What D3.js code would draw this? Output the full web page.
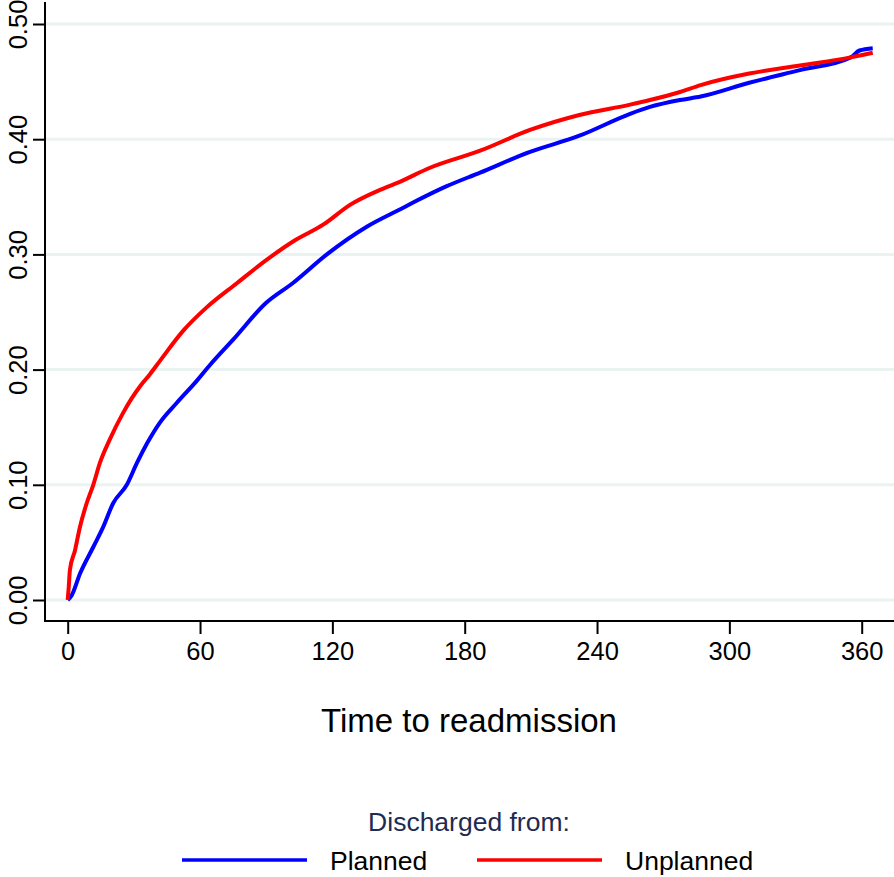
<!DOCTYPE html>
<html><head><meta charset="utf-8">
<script src="https://cdn.jsdelivr.net/npm/d3@7"></script>
<style>body{margin:0;background:#fff}svg{display:block}text{font-family:"Liberation Sans",Arial,sans-serif}</style>
</head><body>
<svg id="c" width="894" height="877"></svg>
<script>
const yTicks = [0, 0.1, 0.2, 0.3, 0.4, 0.5];
const xTicks = [0, 60, 120, 180, 240, 300, 360];
const seriesNames = ["Planned", "Unplanned"];
const seriesColors = ["#0000ff", "#ff0000"];
const plannedDays = [0, 1.8, 5.6, 11.6, 16, 20.6, 26.8, 31.4, 36, 41.8, 49.4, 58.4, 64.5, 75, 90, 102, 117.5, 135.6, 150.6, 156.6, 171.6, 187, 209.6, 232, 255, 264, 277.6, 287, 309, 332, 355, 359, 365];
const plannedVals = [0, 0.004, 0.023, 0.046, 0.063, 0.084, 0.100, 0.119, 0.136, 0.154, 0.171, 0.190, 0.204, 0.226, 0.258, 0.275, 0.300, 0.324, 0.339, 0.345, 0.359, 0.371, 0.389, 0.403, 0.422, 0.428, 0.434, 0.437, 0.449, 0.460, 0.471, 0.477, 0.479];
const unplannedDays = [0, 0.5, 1, 3.3, 5.5, 8.6, 11.6, 14.6, 19, 25, 29, 33, 37.3, 42, 52.5, 63, 76.7, 90, 102, 116, 128, 141.6, 150.6, 164, 187, 209.6, 232, 255, 264, 277.6, 287, 309, 332, 355, 365];
const unplannedVals = [0, 0.012, 0.026, 0.043, 0.063, 0.084, 0.100, 0.119, 0.139, 0.162, 0.175, 0.186, 0.196, 0.208, 0.234, 0.254, 0.275, 0.295, 0.311, 0.326, 0.343, 0.356, 0.363, 0.375, 0.390, 0.408, 0.421, 0.430, 0.434, 0.441, 0.447, 0.457, 0.464, 0.471, 0.475];

const svg = d3.select("#c");
const x = d3.scaleLinear().domain([0, 360]).range([67.7, 861.7]);
const y = d3.scaleLinear().domain([0, 0.5]).range([600, 24]);
const axisX0 = 45, axisY0 = 621;

// gridlines
svg.append("g").selectAll("line").data(yTicks).join("line")
  .attr("x1", axisX0).attr("x2", 894)
  .attr("y1", d => y(d)).attr("y2", d => y(d))
  .attr("stroke", "#ebf2f2").attr("stroke-width", 3);

// y axis
const gy = svg.append("g").attr("transform", `translate(${axisX0},0)`)
  .call(d3.axisLeft(y).tickValues(yTicks).tickFormat(d3.format(".2f")).tickSize(12).tickSizeOuter(0));
gy.select(".domain").remove();
gy.append("line").attr("x1", 0).attr("x2", 0).attr("y1", 2).attr("y2", axisY0 + 1).attr("stroke", "#000").attr("stroke-width", 2);
gy.selectAll(".tick line").attr("stroke", "#000").attr("stroke-width", 2);
gy.selectAll(".tick text").attr("font-size", 25.5).attr("fill", "#000")
  .attr("text-anchor", "middle").attr("dy", 0)
  .attr("transform", `translate(-18,0) rotate(-90)`).attr("x", 0).attr("y", 0);
gy.attr("font-family", null);

// x axis
const gx = svg.append("g").attr("transform", `translate(0,${axisY0})`)
  .call(d3.axisBottom(x).tickValues(xTicks).tickFormat(d3.format("d")).tickSize(13).tickSizeOuter(0));
gx.select(".domain").remove();
gx.append("line").attr("x1", axisX0 - 1).attr("x2", 894).attr("y1", 0).attr("y2", 0).attr("stroke", "#000").attr("stroke-width", 2);
gx.selectAll(".tick line").attr("stroke", "#000").attr("stroke-width", 2);
gx.selectAll(".tick text").attr("font-size", 25.5).attr("fill", "#000").attr("y", 21).attr("dy", "0.71em");
gx.attr("font-family", null);

// curves
const line = d3.line().x(d => x(d[0])).y(d => y(d[1])).curve(d3.curveMonotoneX);
const plannedData = plannedDays.map((d, i) => [d, plannedVals[i]]);
const unplannedData = unplannedDays.map((d, i) => [d, unplannedVals[i]]);
svg.append("path").datum(plannedData).attr("d", line).attr("fill", "none").attr("stroke", seriesColors[0]).attr("stroke-width", 4).attr("stroke-linejoin", "round");
svg.append("path").datum(unplannedData).attr("d", line).attr("fill", "none").attr("stroke", seriesColors[1]).attr("stroke-width", 4).attr("stroke-linejoin", "round");

// axis title
svg.append("text").attr("x", 469).attr("y", 732).attr("text-anchor", "middle").attr("font-size", 33).attr("fill", "#000").text("Time to readmission");

// legend
svg.append("text").attr("x", 469).attr("y", 831).attr("text-anchor", "middle").attr("font-size", 26.5).attr("fill", "#1e2b52").text("Discharged from:");
const legX = [182, 477];
const leg = svg.append("g").selectAll("g").data(seriesNames).join("g");
leg.append("line").attr("x1", (d, i) => legX[i]).attr("x2", (d, i) => legX[i] + 125)
  .attr("y1", 860).attr("y2", 860).attr("stroke", (d, i) => seriesColors[i]).attr("stroke-width", 3.5);
leg.append("text").attr("x", (d, i) => legX[i] + 148).attr("y", 870).attr("font-size", 26.5).attr("fill", "#000").text(d => d);
</script>
</body></html>
